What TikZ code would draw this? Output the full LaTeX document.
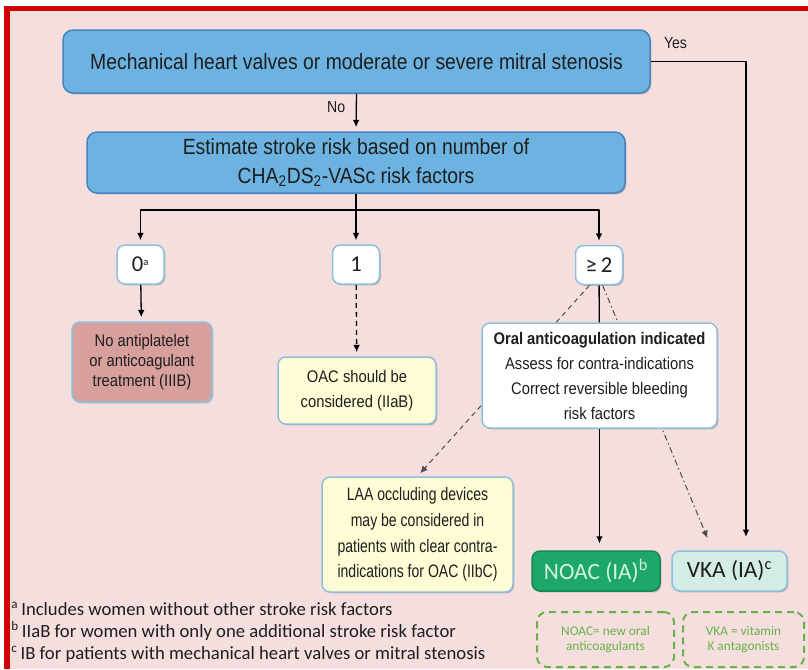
\documentclass[tikz,border=0pt]{standalone}
\usepackage{fontspec}
\usepackage{tikz}
\usetikzlibrary{arrows.meta,calc,backgrounds,shadows}
\setmainfont{Liberation Sans}
\newfontfamily\narrowfont[FakeStretch=0.88]{Liberation Sans}
\newfontfamily\tightfont[FakeStretch=0.78]{Liberation Sans}
\newfontfamily\calfont{Carlito}
\newdimen\px \px=0.75pt

\definecolor{bgpink}{HTML}{F5DFDE}
\definecolor{framered}{HTML}{D10000}
\definecolor{boxblue}{HTML}{6DB3E1}
\definecolor{darkblue}{HTML}{4683BF}
\definecolor{edgeblue}{HTML}{8EC0DE}
\definecolor{redfill}{HTML}{D8A09D}
\definecolor{yellowfill}{HTML}{FFFCD6}
\definecolor{noacgreen}{HTML}{1DA86A}
\definecolor{noactext}{HTML}{D5F3DF}
\definecolor{vkafill}{HTML}{D3ECE5}
\definecolor{leggreen}{HTML}{6AB04A}
\definecolor{textgray}{HTML}{1E1E1E}

\begin{document}
\begin{tikzpicture}[x=0.75pt,y=-0.75pt,line cap=butt,line join=round,
    box/.style={draw=edgeblue,line width=1.5\px,rounded corners=8\px,align=center,
        inner sep=0pt,text=textgray,
        drop shadow={shadow xshift=1pt,shadow yshift=-1pt,fill=black,opacity=0.22}},
    bigbox/.style={box,fill=boxblue,draw=darkblue,rounded corners=10\px,
        font=\narrowfont\fontsize{16.5}{21.75}\selectfont},
    scorebox/.style={box,fill=white,minimum width=47\px,minimum height=39\px,
        font=\calfont\fontsize{17}{20}\selectfont},
    advice/.style={box,font=\narrowfont\fontsize{12.6}{18.75}\selectfont},
    drugbox/.style={box,minimum height=40\px,font=\calfont\fontsize{17.5}{20}\selectfont},
    legend/.style={draw=leggreen,dashed,dash pattern=on 7\px off 5\px,line width=2\px,
        rounded corners=10\px,align=center,inner sep=0pt,minimum height=55\px,
        text=leggreen,font=\calfont\fontsize{10}{11.25}\selectfont},
    note/.style={anchor=base west,inner sep=0pt,text=textgray,
        font=\calfont\fontsize{14}{16.5}\selectfont},
    yn/.style={font=\narrowfont\fontsize{12}{14}\selectfont,text=textgray},
    line/.style={line width=1.3\px,black},
    arr/.style={line,-{Latex[length=5.5pt,width=5pt]},shorten >=3pt}]
\useasboundingbox (0,0) rectangle (808,669);

%%%%%%%%%%%%%%%% TOP %%%%%%%%%%%%%%%%%%%
\node[bigbox,minimum width=587\px,minimum height=63\px] (mhv) at (356.5,61.5)
    {Mechanical heart valves or moderate or severe mitral stenosis};
\node[bigbox,minimum width=538\px,minimum height=61\px] (est) at (356,162.5)
    {Estimate stroke risk based on number of\\CHA\textsubscript{2}DS\textsubscript{2}-VASc risk factors};

\node[scorebox] (zero) at (140.5,264.5) {0{\fontsize{12}{12}\selectfont\textsuperscript{a}}};
\node[scorebox] (one) at (356,264.5) {1};
\node[scorebox] (ge2) at (599,265) {≥\,2};

%%%%%%%%%%%%%%%% ADVICE %%%%%%%%%%%%%%%%%%%
\node[advice,fill=redfill,minimum width=140\px,minimum height=80\px,
    font=\narrowfont\fontsize{12.6}{15}\selectfont] (noap) at (142,362)
    {No antiplatelet\\or anticoagulant\\treatment (IIIB)};
\node[advice,fill=yellowfill,minimum width=158\px,minimum height=67\px] (oac) at (357,390.5)
    {OAC should be\\considered (IIaB)};
\node[advice,fill=white,minimum width=235\px,minimum height=105\px] (oral) at (599.5,375.5)
    {\textbf{Oral anticoagulation indicated}\\Assess for contra-indications\\Correct reversible bleeding\\risk factors};
\node[advice,fill=yellowfill,minimum width=191\px,minimum height=115\px,
    font=\tightfont\fontsize{13.5}{19.3}\selectfont] (laa) at (417.5,534.5)
    {LAA occluding devices\\may be considered in\\patients with clear contra-\\indications for OAC (IIbC)};

\node[drugbox,fill=noacgreen,draw=noacgreen!80!black,text=noactext,minimum width=128\px] (noac) at (596,571)
    {NOAC (IA)\textsuperscript{b}};
\node[drugbox,fill=vkafill,minimum width=115\px] (vka) at (729.5,571) {VKA (IA)\textsuperscript{c}};

\node[legend,minimum width=137\px] (noacleg) at (605.5,639.5) {NOAC= new oral\\anticoagulants};
\node[legend,minimum width=121\px] (vkaleg) at (743.5,639.5) {VKA = vitamin\\K antagonists};

%%%%%%%%%%%%%%%% NOTES %%%%%%%%%%%%%%%%%%%
\node[note] (nota) at (11,615) {\textsuperscript{a}\,Includes women without other stroke risk factors};
\node[note] (notb) at (11,637) {\textsuperscript{b}\,IIaB for women with only one additional stroke risk factor};
\node[note] (notc) at (11,659) {\textsuperscript{c}\,IB for patients with mechanical heart valves or mitral stenosis};

%%%%%%%%%%%%%%%% CONNECTORS %%%%%%%%%%%%%%%%%%%
\coordinate (split) at (356,210);
\coordinate (vkayes) at ($(vka.north)+(16.5,0)$);
\coordinate (vkadash) at ($(vka.north)+(-17,0)$);

\draw[arr] (mhv.south) -- node[yn,left=6\px,pos=0.35] (no) {No} (est.north);
\draw[arr,shorten >=10pt] (mhv.east) -| node[yn,pos=0.13,above=8\px] (yes) {Yes} (vkayes);
\draw[line] (est.south) -- (split);
\foreach \n in {zero,one,ge2}
    \draw[arr] (split) -| (\n.north);
\draw[arr] (zero) -- (noap);
\draw[arr,dashed,dash pattern=on 5\px off 4\px] (one) -- (oac);
\draw[line] (ge2) -- (oral);
\draw[arr,shorten >=5pt] (oral.south) -- (oral.south |- noac.north);

\begin{scope}[on background layer]
\fill[white] (0,0) rectangle (808,669);
\fill[bgpink] (4,6) rectangle (808,669);
\fill[framered] (4,6) rectangle (808,11);
\fill[framered] (4,6) rectangle (10,669);
\draw[arr,line width=1\px,black!70,dash pattern=on 5\px off 4\px] (ge2.-115) -- (laa.north);
\draw[arr,line width=1\px,black!70,dash pattern=on 6\px off 3\px on 1.5\px off 3\px,shorten >=10pt] (ge2.-80) -- (vkadash);
\end{scope}

\end{tikzpicture}
\end{document}
